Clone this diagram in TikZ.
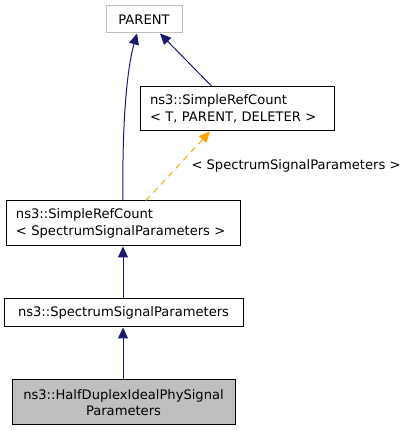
\documentclass[tikz,border=0pt]{standalone}
\usepackage{fontspec}
\setmainfont{DejaVu Sans}
\usetikzlibrary{arrows.meta}
\definecolor{edgeblue}{HTML}{191970}
\definecolor{edgeorange}{HTML}{FFA500}
\definecolor{greybox}{HTML}{BFBFBF}
\tikzset{
  cls/.style={draw=black, line width=1pt, inner ysep=0pt, inner xsep=10pt, font=\fontsize{13.1}{16.5}\selectfont, align=left},
  inh/.style={draw=edgeblue, line width=1pt, -{Triangle[length=11pt,width=10pt]}},
  tmpl/.style={draw=edgeorange, line width=1pt, dashed, dash pattern=on 6pt off 5pt, -{Triangle[length=11pt,width=10pt,fill=edgeorange]}},
}
\begin{document}
\begin{tikzpicture}[x=1pt,y=1pt]
\useasboundingbox (0,0) rectangle (409,432);
\node[cls, draw=greybox, minimum width=76pt, minimum height=27pt, inner xsep=0pt, align=center] (parent) at (144,412.5) {PARENT};
\node[cls, text width=174pt, minimum height=44pt] (srcT) at (237,323) {ns3::SimpleRefCount\\\textless{} T, PARENT, DELETER \textgreater};
\node[cls, text width=214pt, minimum height=45pt] (srcS) at (123,208.5) {ns3::SimpleRefCount\\\textless{} SpectrumSignalParameters \textgreater};
\node[cls, minimum width=239pt, minimum height=28pt, inner xsep=0pt, align=center] (ssp) at (123.5,119) {ns3::SpectrumSignalParameters};
\node[cls, fill=greybox, minimum width=223pt, minimum height=45pt, inner xsep=0pt, align=center] (hd) at (123.5,29.5) {ns3::HalfDuplexIdealPhySignal\\Parameters};
\draw[inh] ([xshift=-25pt]srcT.north) -- ([xshift=16pt]parent.south);
\draw[inh] (srcS.north) .. controls (122,300) and (126,360) .. ([xshift=-7pt]parent.south);
\draw[tmpl] ([xshift=23pt]srcS.north) -- node[pos=0.5, right, xshift=13pt, text=black, font=\fontsize{13.1}{16}\selectfont, inner sep=0pt] (lbl) {\textless{} SpectrumSignalParameters \textgreater} ([xshift=-27pt]srcT.south);
\draw[inh] ([xshift=-0.5pt]ssp.north) -- (srcS.south);
\draw[inh] ([xshift=-0.5pt]hd.north) -- ([xshift=-0.5pt]ssp.south);
\end{tikzpicture}
\end{document}
